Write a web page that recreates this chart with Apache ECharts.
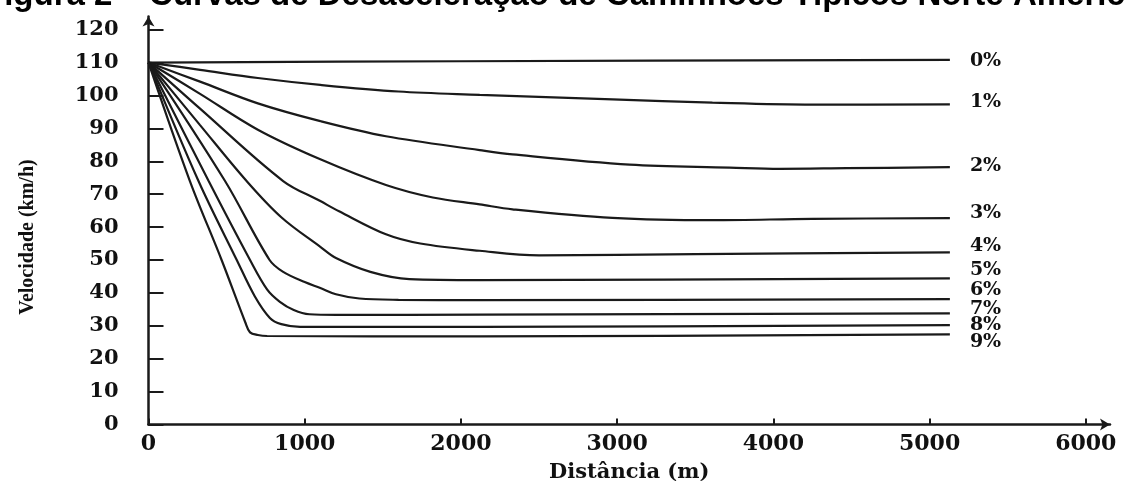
<!DOCTYPE html>
<html>
<head>
<meta charset="utf-8">
<script src="https://cdn.jsdelivr.net/npm/echarts@6/dist/echarts.min.js"></script>
<style>
html,body{margin:0;padding:0;background:#fff;}
#chart{width:1124px;height:481px;}
</style>
</head>
<body>
<div id="chart"></div>
<script>
// ---- data ----
var titleText = 'Figura 2 – Curvas de Desaceleração de Caminhões Típicos Norte Americanos';
var xAxisName = 'Distância (m)';
var yAxisName = 'Velocidade (km/h)';
var xTickValues = [0, 1000, 2000, 3000, 4000, 5000, 6000];
var yTickValues = [0, 10, 20, 30, 40, 50, 60, 70, 80, 90, 100, 110, 120];
var gradeNames = ['0%', '1%', '2%', '3%', '4%', '5%', '6%', '7%', '8%', '9%'];

// [distance (m), speed (km/h)]
var g0 = [[0,110],[2000,110.4],[5130,110.8]];
var g1 = [[0,110],[330,107.8],[700,105.3],[1100,103.2],[1600,101.2],[2120,100.2],[2970,98.8],[3610,97.8],[4250,97.2],[5130,97.3]];
var g2 = [[0,110],[330,104.2],[700,97.6],[1100,92.2],[1520,87.6],[2120,83.4],[2330,82.1],[3080,79],[3720,78.1],[4040,77.7],[4470,77.9],[5130,78.2]];
var g3 = [[0,110],[330,100.5],[700,89.6],[1100,80.6],[1520,72.8],[1820,69.0],[2120,66.9],[2330,65.4],[2970,62.8],[3610,62.1],[4250,62.5],[5130,62.7]];
var g4 = [[0,110],[330,96],[862,74],[1100,67.9],[1220,64.8],[1520,57.8],[1740,55.0],[2120,52.8],[2500,51.4],[3500,51.8],[5130,52.3]];
var g5 = [[0,110],[330,91],[628,74],[850,63],[1100,54],[1200,50.6],[1420,46.4],[1670,44.2],[2120,43.9],[5130,44.4]];
var g6 = [[0,110],[490,74],[775,50],[862,46.4],[1000,43.3],[1100,41.5],[1200,39.6],[1350,38.3],[1600,37.9],[2120,37.8],[5130,38.1]];
var g7 = [[0,110],[385,74],[650,50],[760,41],[841,37.3],[930,34.8],[1030,33.5],[1200,33.3],[2120,33.4],[5130,33.8]];
var g8 = [[0,110],[320,74],[565,50],[680,39],[777,32.4],[850,30.5],[970,29.7],[2120,29.7],[5130,30.2]];
var g9 = [[0,110],[265,74],[468,50],[620,31],[650,28],[700,27.2],[760,26.9],[2120,26.8],[5130,27.4]];
var gradeData = [g0, g1, g2, g3, g4, g5, g6, g7, g8, g9];

// ---- styling ----
var ink = '#1a1a1a';
var labelShiftY = [1, -2, -1, -5, -6, -8, -9, -4, 0, 8];

var series = gradeNames.map(function (name, i) {
  return {
    name: name,
    type: 'line',
    data: gradeData[i],
    showSymbol: false,
    smooth: 0.35,
    lineStyle: { color: ink, width: 2.2 },
    endLabel: {
      show: true,
      formatter: name,
      distance: 20,
      offset: [0, labelShiftY[i]],
      fontFamily: 'DejaVu Serif',
      fontWeight: 'bold',
      fontSize: 19,
      color: '#111'
    },
    silent: true,
    animation: false
  };
});

var chart = echarts.init(document.getElementById('chart'), null, { renderer: 'canvas' });
chart.setOption({
  backgroundColor: '#fff',
  animation: false,
  grid: { left: 148.5, right: 14, top: 16.5, bottom: 56.5, containLabel: false, outerBoundsMode: 'none' },
  xAxis: {
    type: 'value',
    min: 0,
    max: 6155,
    name: xAxisName,
    nameLocation: 'middle',
    nameGap: 38,
    nameMoveOverlap: false,
    nameTextStyle: { fontFamily: 'DejaVu Serif', fontWeight: 'bold', fontSize: 21, color: '#111' },
    axisLine: { show: true, lineStyle: { color: ink, width: 2.5 }, symbol: ['none', 'arrow'], symbolSize: [9, 10] },
    axisTick: { show: true, inside: true, length: 6, lineStyle: { color: ink, width: 2 }, customValues: xTickValues },
    axisLabel: {
      customValues: xTickValues,
      formatter: function (v) { return String(v); },
      margin: 9, fontFamily: 'DejaVu Serif', fontWeight: 'bold', fontSize: 22, color: '#111'
    },
    splitLine: { show: false }
  },
  yAxis: {
    type: 'value',
    min: 0,
    max: 124,
    axisLine: { show: true, lineStyle: { color: ink, width: 2.5 }, symbol: ['none', 'arrow'], symbolSize: [9, 10] },
    axisTick: { show: true, inside: true, length: 15, lineStyle: { color: ink, width: 2 }, customValues: yTickValues },
    axisLabel: {
      customValues: yTickValues,
      formatter: function (v) { return String(v); },
      margin: 30, fontFamily: 'DejaVu Serif', fontWeight: 'bold', fontSize: 21, color: '#111'
    },
    splitLine: { show: false }
  },
  graphic: [
    {
      type: 'text',
      left: -16,
      top: -21,
      silent: true,
      style: { text: titleText, font: 'bold 33px "Liberation Sans", Arial, sans-serif', fill: '#000' }
    },
    {
      type: 'text',
      x: 28,
      y: 237,
      rotation: Math.PI / 2,
      silent: true,
      style: {
        text: yAxisName,
        font: 'bold 20px "Liberation Serif", serif',
        fill: '#111',
        align: 'center',
        verticalAlign: 'middle'
      }
    }
  ],
  series: series
});
</script>
</body>
</html>
